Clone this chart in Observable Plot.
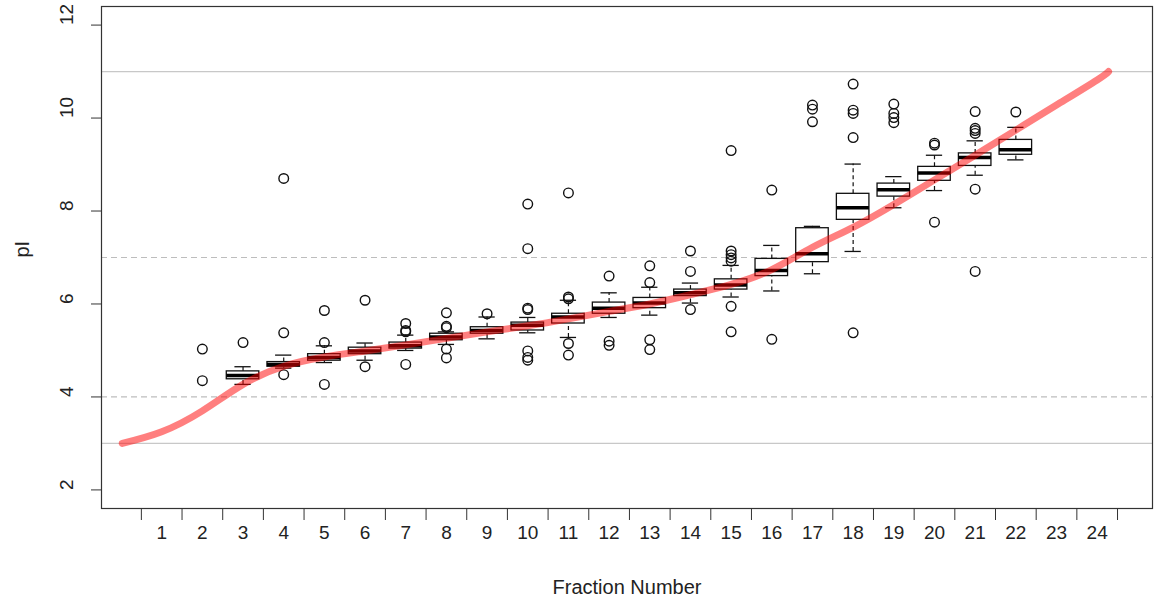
<!DOCTYPE html>
<html>
<head>
<meta charset="utf-8">
<script src="https://cdn.jsdelivr.net/npm/d3@7"></script>
<script src="https://cdn.jsdelivr.net/npm/@observablehq/plot@0.6"></script>
<style>
  html, body { margin: 0; padding: 0; background: white; }
</style>
</head>
<body>
<div id="chart"></div>
<script>
// ---- Data ----
const fractions   = [3,4,5,6,7,8,9,10,11,12,13,14,15,16,17,18,19,20,21,22];
const whiskerLow  = [4.27,4.62,4.74,4.79,5.00,5.13,5.25,5.38,5.28,5.71,5.76,6.02,6.15,6.28,6.65,7.13,8.07,8.44,8.77,9.10];
const quartile1   = [4.38,4.65,4.78,4.92,5.04,5.22,5.36,5.43,5.58,5.79,5.91,6.17,6.31,6.60,6.90,7.81,8.31,8.65,8.97,9.21];
const medians     = [4.46,4.70,4.85,4.99,5.10,5.29,5.43,5.54,5.72,5.91,6.02,6.24,6.41,6.72,7.08,8.07,8.46,8.82,9.15,9.32];
const quartile3   = [4.55,4.75,4.92,5.06,5.17,5.36,5.50,5.60,5.79,6.03,6.13,6.31,6.53,6.97,7.63,8.37,8.59,8.95,9.24,9.53];
const whiskerHigh = [4.65,4.90,5.10,5.16,5.33,5.40,5.72,5.71,6.08,6.24,6.36,6.45,6.83,7.26,7.67,9.01,8.74,9.20,9.51,9.80];

const outlierFraction = [
  2,2, 3, 4,4,4, 5,5,5, 6,6, 7,7,7,7, 8,8,8,8,8, 9,
  10,10,10,10,10,10,10, 11,11,11,11,11, 12,12,12, 13,13,13,13,
  14,14,14, 15,15,15,15,15,15,15, 16,16, 17,17,17, 18,18,18,18,18,
  19,19,19,19, 20,20,20, 21,21,21,21,21,21, 22
];
const outlierValue = [
  5.03,4.35, 5.17, 8.70,5.38,4.48, 5.86,5.17,4.27, 6.08,4.65, 5.58,5.43,5.40,4.70, 5.81,5.52,5.49,5.03,4.84, 5.79,
  8.15,7.19,5.91,5.88,4.99,4.85,4.79, 8.39,6.15,6.11,5.15,4.90, 6.60,5.20,5.11, 6.82,6.46,5.23,5.02,
  7.14,6.70,5.88, 9.30,7.14,7.06,6.99,6.92,5.95,5.40, 8.45,5.24, 10.28,10.19,9.92, 10.73,10.17,10.10,9.58,5.38,
  10.30,10.10,10.01,9.90, 9.46,9.42,7.76, 10.14,9.78,9.73,9.67,8.47,6.70, 10.13
];

// Red pI gradient curve
const gradientPos = [0.03,1,2,3,4,5,6,7,8,9,10,11,12,13,14,15,16,17,18,19,20,21,22,23,24,24.28];
const gradientPI  = [3.0,3.25,3.7,4.27,4.66,4.86,4.99,5.12,5.26,5.40,5.53,5.68,5.84,6.0,6.2,6.42,6.74,7.22,7.65,8.14,8.67,9.2,9.74,10.28,10.82,11.0];

const xLabels     = d3.range(1, 25);            // 1..24
const xTickBounds = d3.range(0.5, 25, 1);       // 0.5..24.5
const yTicks      = [2,4,6,8,10,12];
const solidGrid   = [3, 11];
const dashedGrid  = [4, 7];

// ---- Build tables ----
const boxes = fractions.map((f, i) => ({
  f, lo: whiskerLow[i], q1: quartile1[i], med: medians[i], q3: quartile3[i], hi: whiskerHigh[i]
}));
const outliers = outlierFraction.map((f, i) => ({f, v: outlierValue[i]}));
const gradient = gradientPos.map((x, i) => ({x, y: gradientPI[i]}));

const boxHalf = 0.4, capHalf = 0.2;

const chart = Plot.plot({
  width: 1157,
  height: 610,
  marginLeft: 101,
  marginRight: 5,
  marginTop: 6,
  marginBottom: 102,
  style: {fontFamily: "'Liberation Sans', Arial, sans-serif", fontSize: "19px", background: "white", color: "#222"},
  x: {type: "linear", domain: [-0.48, 25.36], axis: null},
  y: {domain: [1.6, 12.4], axis: null},
  marks: [
    Plot.ruleY(solidGrid, {stroke: "#c8c8c8", strokeWidth: 1.2}),
    Plot.ruleY(dashedGrid, {stroke: "#bdbdbd", strokeWidth: 1.2, strokeDasharray: "6,4"}),
    // whiskers
    Plot.ruleX(boxes, {x: "f", y1: "lo", y2: "q1", stroke: "#111", strokeWidth: 1.2, strokeDasharray: "4,3"}),
    Plot.ruleX(boxes, {x: "f", y1: "q3", y2: "hi", stroke: "#111", strokeWidth: 1.2, strokeDasharray: "4,3"}),
    // staples
    Plot.ruleY(boxes, {y: "lo", x1: d => d.f - capHalf, x2: d => d.f + capHalf, stroke: "#111", strokeWidth: 1.3}),
    Plot.ruleY(boxes, {y: "hi", x1: d => d.f - capHalf, x2: d => d.f + capHalf, stroke: "#111", strokeWidth: 1.3}),
    // boxes
    Plot.rect(boxes, {x1: d => d.f - boxHalf, x2: d => d.f + boxHalf, y1: "q1", y2: "q3", fill: "white", stroke: "#111", strokeWidth: 1.3}),
    // medians
    Plot.ruleY(boxes, {y: "med", x1: d => d.f - boxHalf, x2: d => d.f + boxHalf, stroke: "#000", strokeWidth: 3.5}),
    // outliers
    Plot.dot(outliers, {x: "f", y: "v", r: 4.8, stroke: "#111", strokeWidth: 1.4, fill: "none"}),
    // red gradient line
    Plot.line(gradient, {x: "x", y: "y", stroke: "#ff0000", strokeOpacity: 0.5, strokeWidth: 7, curve: "natural", strokeLinecap: "round"}),
    // frame
    Plot.frame({stroke: "#333", strokeWidth: 1.2}),
    // axes
    Plot.axisX(xTickBounds, {tickSize: 12, tickFormat: () => "", stroke: "#333"}),
    Plot.axisX(xLabels, {tickSize: 0, tickPadding: 17, fontSize: 19, fill: "#222", tickFormat: d => String(d)}),
    Plot.axisY(yTicks, {tickSize: 10, tickFormat: () => "", stroke: "#333"}),
    Plot.text(yTicks, {y: d => d, text: d => String(d), frameAnchor: "left", dx: -35, rotate: -90, fontSize: 19, fill: "#222"}),
    Plot.text(["pI"], {text: d => d, frameAnchor: "left", dx: -79, rotate: -90, fontSize: 20, fill: "#222"}),
    Plot.text(["Fraction Number"], {text: d => d, frameAnchor: "bottom", dy: 85, fontSize: 20, fill: "#222"})
  ]
});
document.getElementById("chart").appendChild(chart);
</script>
</body>
</html>
